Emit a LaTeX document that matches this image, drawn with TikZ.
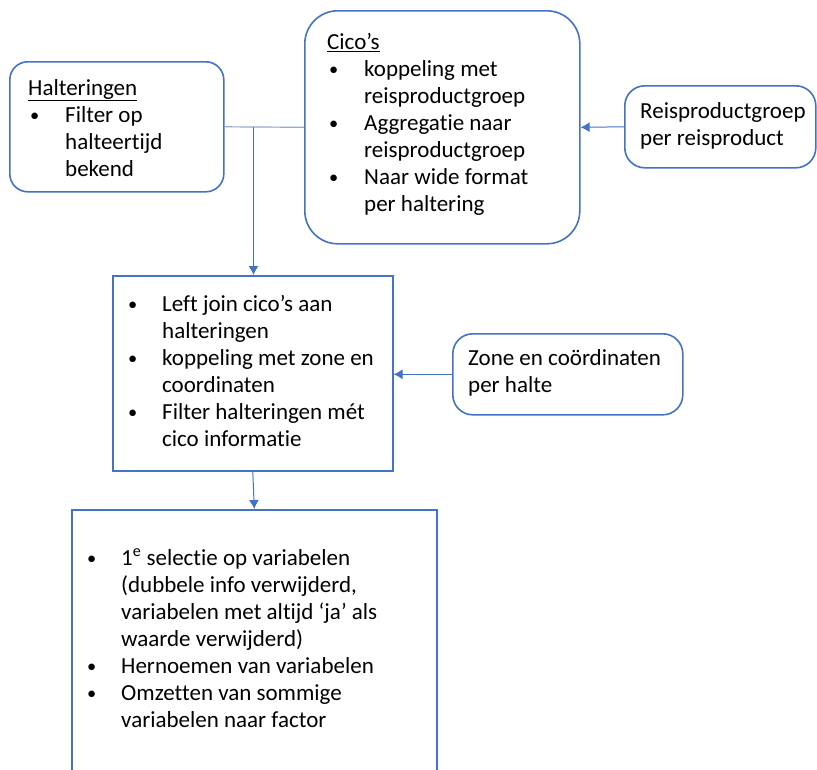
\documentclass[tikz,border=0pt]{standalone}
\usepackage{fontspec}
\usepackage{graphicx}
\setmainfont{Carlito}[Ligatures=NoCommon]
\usetikzlibrary{arrows.meta,calc}
\definecolor{boxblue}{RGB}{68,114,196}
\definecolor{linegray}{RGB}{150,170,200}
\newcommand\bi[2]{\makebox[#1][l]{\hspace{2pt}\raisebox{1pt}{\scalebox{0.8}{\textbullet}}}#2}
\newcommand\ct[2]{\hspace*{#1}#2}
\begin{document}
\begin{tikzpicture}[x=1pt,y=-1pt,
  box/.style={draw=boxblue,line width=1.6pt,fill=white,inner sep=0pt,anchor=north west},
  txt/.style={anchor=north west,inner sep=0pt,align=left,font=\fontsize{23}{27}\selectfont},
  arr/.style={draw=boxblue,line width=1pt,-{Latex[length=9pt,width=10pt]}}]
\clip (0,0) rectangle (817,769);
\fill[white] (0,0) rectangle (817,769);
% boxes
\node[box,rounded corners=18pt,minimum width=214pt,minimum height=130pt] (halt) at (9,61) {};
\node[box,rounded corners=33pt,minimum width=275pt,minimum height=233pt] (cico) at (304,10) {};
\node[box,rounded corners=20pt,minimum width=191pt,minimum height=82pt] (reis) at (624,85) {};
\node[box,minimum width=280pt,minimum height=195pt] (mid) at (112,275) {};
\node[box,rounded corners=20pt,minimum width=230pt,minimum height=81pt] (zone) at (452,333) {};
\node[box,minimum width=365pt,minimum height=290pt] (bot) at (71,509) {};
% texts
\node[txt] (haltT) at (28,76.1) {\strut\underline{Halteringen}\\
  \bi{37pt}{Filter op}\\ \ct{37pt}{halteertijd}\\ \ct{37pt}{bekend}};
\node[txt] (cicoT) at (327,30.1) {\strut\underline{Cico’s}\\
  \bi{37pt}{koppeling met}\\ \ct{37pt}{reisproductgroep}\\
  \bi{37pt}{Aggregatie naar}\\ \ct{37pt}{reisproductgroep}\\
  \bi{37pt}{Naar wide format}\\ \ct{37pt}{per haltering}};
\node[txt] (reisT) at (640,99.4) {\strut Reisproductgroep\\ per reisproduct};
\node[txt] (midT) at (126,292.8) {\strut\bi{36pt}{Left join cico’s aan}\\ \ct{36pt}{halteringen}\\
  \bi{36pt}{koppeling met zone en}\\ \ct{36pt}{coordinaten}\\
  \bi{36pt}{Filter halteringen mét}\\ \ct{36pt}{cico informatie}};
\node[txt] (zoneT) at (468,346.8) {\strut Zone en coördinaten\\ per halte};
\node[txt] (botT) at (85,546.1) {\strut\bi{36pt}{1\textsuperscript{e} selectie op variabelen}\\
  \ct{36pt}{(dubbele info verwijderd,}\\
  \ct{36pt}{variabelen met altijd ‘ja’ als}\\
  \ct{36pt}{waarde verwijderd)}\\
  \bi{36pt}{Hernoemen van variabelen}\\
  \bi{36pt}{Omzetten van sommige}\\
  \ct{36pt}{variabelen naar factor}};
% connectors
\draw[linegray,line width=1.2pt] (halt.east) -- (cico.west);
\coordinate (j) at ($(halt.east)!0.364!(cico.west)$);
\draw[arr] (j) -- (j |- mid.north);
\draw[arr] (reis.west) -- (cico.east);
\draw[arr] (zone.west) -- (zone.west -| mid.east);
\draw[arr] (mid.south) -- (bot.north);
\end{tikzpicture}
\end{document}
